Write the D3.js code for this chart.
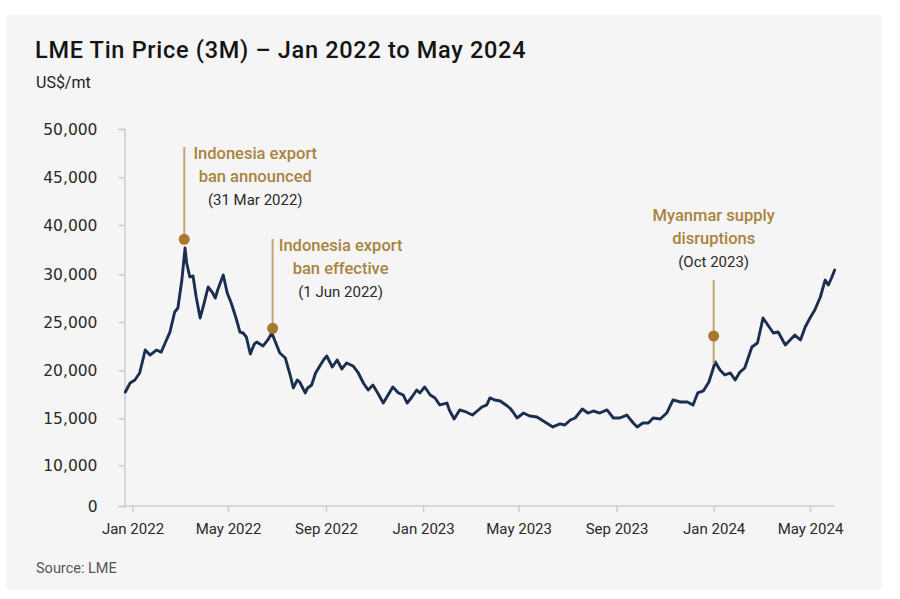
<!DOCTYPE html>
<html lang="en">
<head>
<meta charset="UTF-8">
<title>LME Tin Price (3M) – Jan 2022 to May 2024</title>
<script src="https://cdn.jsdelivr.net/npm/d3@7"></script>
<style>
  body { margin: 0; background: #ffffff; font-family: Roboto, "Noto Sans", Arial, sans-serif; }
  svg { display: block; }
  .panel { fill: #f5f5f5; }
  .title { font-size: 23.5px; font-weight: 500; letter-spacing: 0.7px; fill: #141414; }
  .unit { font-size: 16px; fill: #222; }
  .source { font-size: 14.5px; fill: #555; }
  .axis path, .axis line { stroke: #cdcdcd; stroke-width: 1.5; }
  .y-axis text { font-family: "DejaVu Sans", sans-serif; font-size: 15.5px; fill: #2a2a2a; }
  .x-axis text { font-family: Roboto, sans-serif; font-size: 15px; fill: #2a2a2a; }
  .price { fill: none; stroke: #1b2e50; stroke-width: 2.9; stroke-linejoin: round; stroke-linecap: round; }
  .ev-line { stroke: #c6a373; stroke-width: 2; }
  .ev-dot { fill: #a9772d; }
  .ev-title { font-size: 16.5px; font-weight: 500; fill: #a8843f; }
  .ev-date { font-size: 15px; fill: #2a2a2a; }
</style>
</head>
<body>
<svg id="chart" width="900" height="599"></svg>
<script>
// LME 3M tin, US$/mt
const dates = [
  "2021-12-23","2021-12-29","2022-01-04","2022-01-10","2022-01-17","2022-01-23","2022-01-31","2022-02-06",
  "2022-02-11","2022-02-17","2022-02-23","2022-02-27","2022-03-04","2022-03-08","2022-03-10","2022-03-14",
  "2022-03-18","2022-03-22","2022-03-27","2022-04-01","2022-04-06","2022-04-11","2022-04-15","2022-04-18",
  "2022-04-25","2022-04-30","2022-05-05","2022-05-11","2022-05-16","2022-05-20","2022-05-24","2022-05-29",
  "2022-06-03","2022-06-06","2022-06-14","2022-06-20","2022-06-25","2022-06-30","2022-07-05","2022-07-12",
  "2022-07-18","2022-07-22","2022-07-27","2022-07-30","2022-08-06","2022-08-09","2022-08-14","2022-08-19",
  "2022-08-25","2022-08-29","2022-09-02","2022-09-09","2022-09-15","2022-09-21","2022-09-27","2022-10-05",
  "2022-10-11","2022-10-18","2022-10-24","2022-10-30","2022-11-05","2022-11-12","2022-11-18","2022-11-24",
  "2022-12-01","2022-12-07","2022-12-12","2022-12-18","2022-12-24","2022-12-28","2023-01-03","2023-01-10",
  "2023-01-16","2023-01-22","2023-01-31","2023-02-03","2023-02-09","2023-02-16","2023-02-24","2023-03-04",
  "2023-03-10","2023-03-16","2023-03-22","2023-03-26","2023-04-01","2023-04-08","2023-04-15","2023-04-20",
  "2023-04-24","2023-04-29","2023-05-07","2023-05-15","2023-05-24","2023-06-01","2023-06-07","2023-06-13",
  "2023-06-22","2023-06-28","2023-07-05","2023-07-11","2023-07-20","2023-07-27","2023-08-03","2023-08-11",
  "2023-08-20","2023-08-28","2023-09-05","2023-09-14","2023-09-22","2023-09-27","2023-10-04","2023-10-11",
  "2023-10-17","2023-10-26","2023-11-03","2023-11-11","2023-11-20","2023-11-29","2023-12-06","2023-12-12",
  "2023-12-19","2023-12-26","2023-12-30","2024-01-03","2024-01-09","2024-01-15","2024-01-22","2024-01-28",
  "2024-02-03","2024-02-09","2024-02-18","2024-02-25","2024-03-03","2024-03-09","2024-03-16","2024-03-22",
  "2024-03-31","2024-04-06","2024-04-12","2024-04-19","2024-04-25","2024-05-01","2024-05-07","2024-05-14",
  "2024-05-20","2024-05-24","2024-05-28","2024-06-01"
];
const prices = [
  17740,18680,18990,19720,22100,21580,22100,21890,
  22830,23960,26050,26470,29400,35330,32290,29720,
  29820,27620,25420,26990,28670,28140,27520,28350,
  29930,28040,26990,25420,23960,23860,23450,21690,
  22720,22930,22520,23140,23860,22830,21790,21270,
  19510,18160,18990,18780,17640,18160,18470,19720,
  20550,21070,21480,20340,21070,20140,20760,20450,
  19820,18680,17950,18470,17640,16590,17430,18260,
  17640,17430,16590,17220,17950,17640,18260,17430,
  17120,16390,16590,15870,14930,15870,15660,15340,
  15760,16180,16390,17120,16910,16800,16390,16070,
  15660,15030,15550,15240,15140,14710,14400,14080,
  14400,14290,14820,15030,15970,15550,15760,15550,
  15870,15030,15030,15340,14500,14080,14500,14500,
  15030,14930,15550,16910,16700,16700,16390,17640,
  17850,18780,19820,20860,20030,19510,19720,18990,
  19820,20240,22410,22830,25420,24690,23860,23960,
  22620,23140,23650,23140,24480,25420,26260,27620,
  29400,28880,29610,30870
];

// tick labels as printed on the reference (note: no 35,000 / 5,000)
const yTickValues = [0, 10000, 15000, 20000, 25000, 30000, 40000, 45000, 50000];
const xTickDates = ["2022-01-01","2022-05-01","2022-09-01","2023-01-01","2023-05-01","2023-09-01","2024-01-01","2024-05-01"];

const events = [
  { date: "2022-03-07", dot: 37100, title: ["Indonesia export", "ban announced"], when: "(31 Mar 2022)" },
  { date: "2022-06-26", dot: 24350, title: ["Indonesia export", "ban effective"], when: "(1 Jun 2022)" },
  { date: "2024-01-01", dot: 23550, title: ["Myanmar supply", "disruptions"], when: "(Oct 2023)" }
];

const parse = d3.timeParse("%Y-%m-%d");
const series = dates.map((d, i) => ({ date: parse(d), value: prices[i] }));

const svg = d3.select("#chart");
const axisX = 124.5, baseY = 506;

// light card behind everything
svg.append("rect").attr("class", "panel")
  .attr("x", 6).attr("y", 15).attr("width", 876).attr("height", 575).attr("rx", 3);

svg.append("text").attr("class", "title").attr("x", 35).attr("y", 58)
  .text("LME Tin Price (3M) – Jan 2022 to May 2024");
svg.append("text").attr("class", "unit").attr("x", 36).attr("y", 88).text("US$/mt");
svg.append("text").attr("class", "source").attr("x", 36).attr("y", 573).text("Source: LME");

// the printed axis is not evenly valued, so map each labelled tick to its own position
const y = d3.scaleLinear()
  .domain(yTickValues)
  .range([baseY, 465.3, 418.3, 370.3, 322, 274.3, 225, 177.3, 129]);

const x = d3.scaleTime()
  .domain([parse("2022-01-01"), parse("2024-05-01")])
  .range([132.5, 810]);

// x baseline runs from the y axis to the end of the data
svg.append("line").attr("class", "axis-base")
  .attr("x1", axisX).attr("x2", x(series[series.length - 1].date))
  .attr("y1", baseY).attr("y2", baseY)
  .attr("stroke", "#cdcdcd").attr("stroke-width", 1.5);

const xAxis = svg.append("g").attr("class", "axis x-axis")
  .attr("transform", `translate(0,${baseY})`)
  .call(d3.axisBottom(x)
    .tickValues(xTickDates.map(parse))
    .tickFormat(d3.timeFormat("%b %Y"))
    .tickSize(6).tickPadding(11));
xAxis.select(".domain").remove();
xAxis.selectAll("text").attr("dy", "0.75em");

const yAxis = svg.append("g").attr("class", "axis y-axis")
  .attr("transform", `translate(${axisX},0)`)
  .call(d3.axisLeft(y)
    .tickValues(yTickValues)
    .tickFormat(d3.format(","))
    .tickSize(6).tickPadding(21));
yAxis.selectAll("text").attr("dy", "0.36em");

const line = d3.line()
  .x(d => x(d.date))
  .y(d => y(d.value));

svg.append("path").datum(series).attr("class", "price").attr("d", line);

// event call-outs
const layout = [
  { dx: 71, textY: 153, lineTop: 147 },
  { dx: 68, textY: 245, lineTop: 239 },
  { dx: 0, textY: 215, lineTop: 280, toData: true }
];
const lineGap = 23.5;
const bisect = d3.bisector(d => d.date).center;

events.forEach((ev, i) => {
  const L = layout[i];
  const ex = x(parse(ev.date));
  const dotY = y(ev.dot);
  let bottom = dotY;
  if (L.toData) {
    const near = series[bisect(series, parse(ev.date))];
    bottom = y(near.value) + 2;
  }
  const g = svg.append("g").attr("class", "event");
  g.append("line").attr("class", "ev-line")
    .attr("x1", ex).attr("x2", ex).attr("y1", L.lineTop).attr("y2", bottom);
  g.append("circle").attr("class", "ev-dot").attr("cx", ex).attr("cy", dotY).attr("r", 5.5);

  const tx = ex + L.dx;
  ev.title.forEach((t, k) => {
    g.append("text").attr("class", "ev-title")
      .attr("x", tx).attr("y", L.textY + k * lineGap).attr("dy", "0.35em")
      .attr("text-anchor", "middle").text(t);
  });
  g.append("text").attr("class", "ev-date")
    .attr("x", tx).attr("y", L.textY + ev.title.length * lineGap).attr("dy", "0.35em")
    .attr("text-anchor", "middle").text(ev.when);
});
</script>
</body>
</html>
